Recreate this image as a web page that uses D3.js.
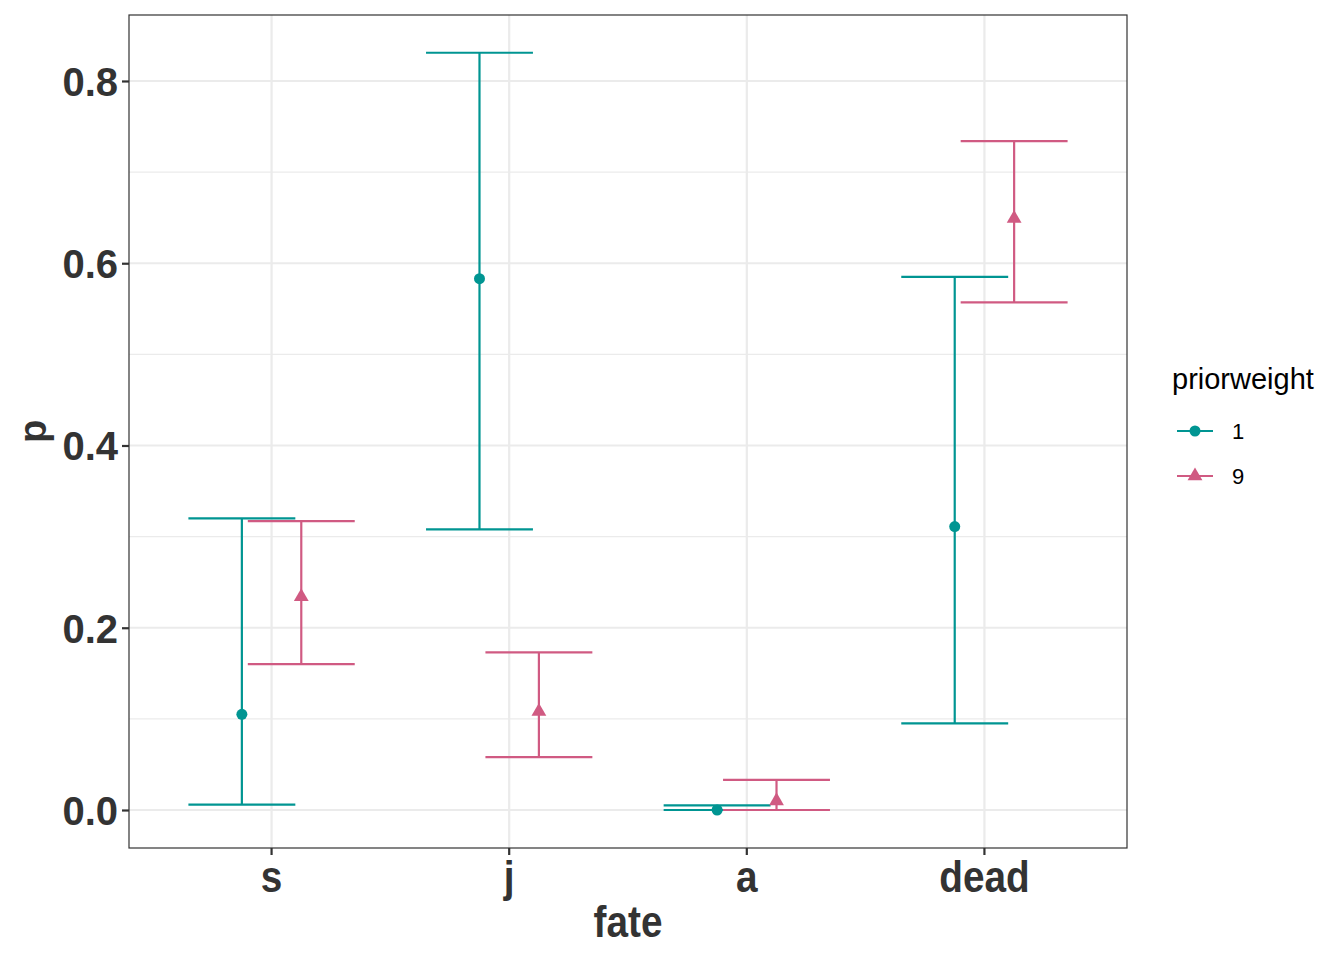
<!DOCTYPE html>
<html>
<head>
<meta charset="utf-8">
<script src="https://cdn.jsdelivr.net/npm/d3@7"></script>
<style>
  body { margin: 0; background: #fff; }
  svg text { fill: #333; }
</style>
</head>
<body>
<div id="chart"></div>
<script>
// data
const fates = ["s", "j", "a", "dead"];
const weights = ["1", "9"];
const est1 = [0.105, 0.583, 0.0, 0.311];
const lo1 = [0.006, 0.308, 0.0, 0.095];
const hi1 = [0.320, 0.831, 0.005, 0.585];
const est9 = [0.234, 0.108, 0.010, 0.649];
const lo9 = [0.160, 0.058, 0.0, 0.557];
const hi9 = [0.317, 0.173, 0.033, 0.734];
const yTicks = [0, 0.2, 0.4, 0.6, 0.8];

const W = 1344, H = 960;
const panel = { left: 129, right: 1127, top: 15, bottom: 848 };
const colors = { "1": "#009592", "9": "#d05a82" };

const rows = [];
fates.forEach((f, i) => {
  rows.push({ fate: f, w: "1", est: est1[i], lo: lo1[i], hi: hi1[i] });
  rows.push({ fate: f, w: "9", est: est9[i], lo: lo9[i], hi: hi9[i] });
});

const svg = d3.select("#chart").append("svg")
  .attr("width", W).attr("height", H);

const x = d3.scaleBand().domain(fates)
  .range([panel.left, panel.right]).paddingOuter(0.1).paddingInner(0);
// band centre
const xc = f => x(f) + x.bandwidth() / 2;
const dodge = d3.scaleBand().domain(weights).range([-0.25, 0.25]);
const y = d3.scaleLinear().domain([-0.0417, 0.8724]).range([panel.bottom, panel.top]);

// grid
const minor = [0.1, 0.3, 0.5, 0.7];
svg.append("g").selectAll("line").data(minor).join("line")
  .attr("x1", panel.left).attr("x2", panel.right)
  .attr("y1", d => y(d)).attr("y2", d => y(d))
  .attr("stroke", "#ebebeb").attr("stroke-width", 1.1);
svg.append("g").selectAll("line").data(yTicks).join("line")
  .attr("x1", panel.left).attr("x2", panel.right)
  .attr("y1", d => y(d)).attr("y2", d => y(d))
  .attr("stroke", "#ebebeb").attr("stroke-width", 2.2);
svg.append("g").selectAll("line").data(fates).join("line")
  .attr("x1", d => xc(d)).attr("x2", d => xc(d))
  .attr("y1", panel.top).attr("y2", panel.bottom)
  .attr("stroke", "#ebebeb").attr("stroke-width", 2.2);

// error bars
const px = d => xc(d.fate) + (dodge(d.w) + dodge.bandwidth() / 2) * x.bandwidth();
const half = 0.225 * x.bandwidth();
const eb = svg.append("g").selectAll("g").data(rows).join("g")
  .attr("stroke", d => colors[d.w]).attr("stroke-width", 2.2).attr("fill", "none");
eb.append("line")
  .attr("x1", px).attr("x2", px)
  .attr("y1", d => y(d.lo)).attr("y2", d => y(d.hi));
eb.append("line")
  .attr("x1", d => px(d) - half).attr("x2", d => px(d) + half)
  .attr("y1", d => y(d.lo)).attr("y2", d => y(d.lo));
eb.append("line")
  .attr("x1", d => px(d) - half).attr("x2", d => px(d) + half)
  .attr("y1", d => y(d.hi)).attr("y2", d => y(d.hi));

// points
const sym = {
  "1": d3.symbol().type(d3.symbolCircle).size(95),
  "9": d3.symbol().type(d3.symbolTriangle).size(95)
};
svg.append("g").selectAll("path").data(rows).join("path")
  .attr("d", d => sym[d.w]())
  .attr("transform", d => `translate(${px(d)},${y(d.est)})`)
  .attr("fill", d => colors[d.w]);

// panel border
svg.append("rect")
  .attr("x", panel.left).attr("y", panel.top)
  .attr("width", panel.right - panel.left).attr("height", panel.bottom - panel.top)
  .attr("fill", "none").attr("stroke", "#333").attr("stroke-width", 1.2);

// y axis
const yAxis = svg.append("g")
  .attr("transform", `translate(${panel.left},0)`)
  .call(d3.axisLeft(y).tickValues(yTicks).tickFormat(d3.format(".1f")).tickSize(7).tickPadding(4));
yAxis.select(".domain").remove();
yAxis.selectAll("line").attr("stroke", "#333").attr("stroke-width", 2.2);
yAxis.selectAll("text")
  .attr("font-family", "Liberation Sans, Arial, sans-serif")
  .attr("font-weight", "bold").attr("font-size", 40).attr("fill", "#333")
  .attr("dy", "0.36em");

// x axis (reference uses a condensed face, squeeze a little)
const xAxis = svg.append("g")
  .attr("transform", `translate(0,${panel.bottom})`)
  .call(d3.axisBottom(x).tickSize(7).tickPadding(6));
xAxis.select(".domain").remove();
xAxis.selectAll("line").attr("stroke", "#333").attr("stroke-width", 2.2);
xAxis.selectAll("text")
  .attr("font-family", "Liberation Sans Narrow, Arial Narrow, Liberation Sans, sans-serif")
  .attr("font-weight", "bold").attr("font-size", 44).attr("fill", "#333")
  .attr("dy", "0.71em")
  .attr("transform", "scale(0.9,1)")
  .attr("x", function () { return 0; });
xAxis.selectAll(".tick").each(function () {
  // keep text centred after the squeeze
  d3.select(this).select("text").attr("transform", "scale(0.88,1)");
});

// axis titles
svg.append("text")
  .attr("transform", `translate(${(panel.left + panel.right) / 2},937) scale(0.88,1)`)
  .attr("text-anchor", "middle")
  .attr("font-family", "Liberation Sans Narrow, Arial Narrow, Liberation Sans, sans-serif")
  .attr("font-weight", "bold").attr("font-size", 44)
  .text("fate");
svg.append("text")
  .attr("transform", `translate(46,${(panel.top + panel.bottom) / 2}) rotate(-90)`)
  .attr("text-anchor", "middle")
  .attr("font-family", "Liberation Sans, Arial, sans-serif")
  .attr("font-weight", "bold").attr("font-size", 38)
  .text("p");

// legend
const lg = svg.append("g").attr("transform", "translate(1172,0)");
lg.append("text").attr("x", 0).attr("y", 389)
  .attr("font-family", "Liberation Sans, Arial, sans-serif")
  .attr("font-size", 29).style("fill", "#000")
  .text("priorweight");
const items = lg.selectAll("g").data(weights).join("g")
  .attr("transform", (d, i) => `translate(0,${431 + i * 45})`);
items.append("line").attr("x1", 5).attr("x2", 41)
  .attr("stroke", d => colors[d]).attr("stroke-width", 2.2);
items.append("path")
  .attr("d", d => sym[d]())
  .attr("transform", "translate(23,0)")
  .attr("fill", d => colors[d]);
items.append("text").attr("x", 60).attr("dy", "0.36em")
  .attr("font-family", "Liberation Sans, Arial, sans-serif")
  .attr("font-size", 22).style("fill", "#000")
  .text(d => d);
</script>
</body>
</html>
